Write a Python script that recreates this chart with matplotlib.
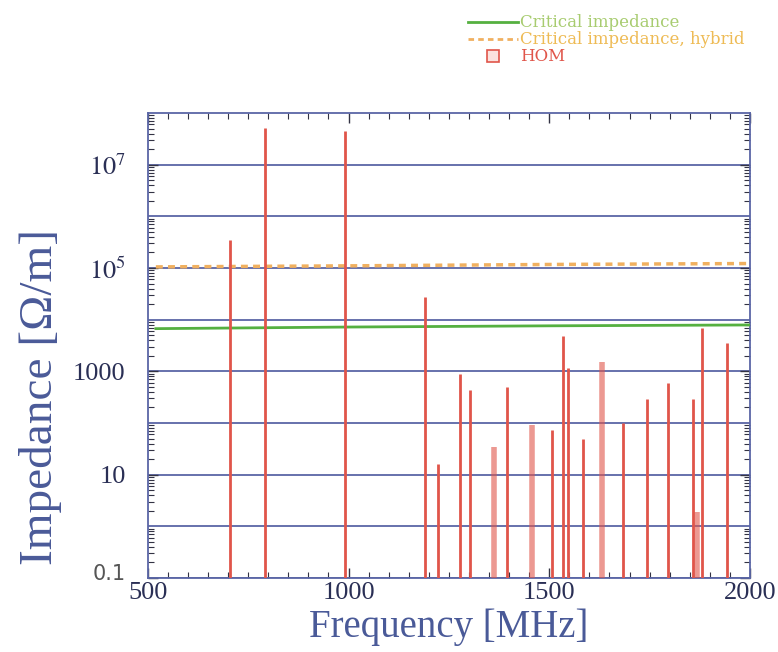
import matplotlib
matplotlib.use("Agg")
import matplotlib.pyplot as plt
from matplotlib.ticker import FixedLocator, FuncFormatter, MultipleLocator, LogLocator, NullFormatter
from matplotlib.lines import Line2D
import matplotlib.transforms as mtransforms

# HOM peaks: frequency [MHz], impedance [Ohm/m]
hom_freq = [704, 791, 991, 1190, 1222, 1277, 1302, 1362, 1394, 1456, 1506,
            1535, 1547, 1583, 1632, 1683, 1744, 1797, 1859, 1867, 1880, 1942]
hom_imp = [3.5e5, 5.2e7, 4.5e7, 2.8e4, 16, 900, 430, 34, 500, 90, 72,
           4800, 1180, 50, 1500, 98, 290, 590, 290, 1.9, 7000, 3500]
hom_width = [2, 2, 2, 2, 2, 2, 2, 4, 2, 4, 2, 2, 2, 2, 4, 2, 2, 2, 2, 4, 2, 2]

crit_freq = [520, 1000, 1500, 2000]
crit_imp = [6700, 7200, 7600, 7900]
hyb_freq = [520, 1000, 1500, 2000]
hyb_imp = [1.05e5, 1.1e5, 1.17e5, 1.22e5]

ytick_vals = [0.1, 10, 1000, 1e5, 1e7]
ytick_text = ["0.1", "10", "1000", r"$10^5$", r"$10^7$"]
xtick_vals = [500, 1000, 1500, 2000]

grid_col = "#5a66a6"
label_col = "#4a5a98"
red = "#e0554a"

plt.rcParams["font.family"] = ["Liberation Serif", "DejaVu Serif"]
plt.rcParams["mathtext.fontset"] = "stix"

fig = plt.figure(figsize=(7.78, 6.52), dpi=100)
ax = fig.add_axes([0.190, 0.1135, 0.774, 0.7132])

ax.set_yscale("log")
ax.set_xlim(500, 2000)
ax.set_ylim(0.1, 1e8)

# horizontal grid every decade
for e in range(-1, 8):
    ax.axhline(10.0 ** e, color=grid_col, lw=1.3, zorder=1)

ax.plot(crit_freq, crit_imp, color="#55b040", lw=2, zorder=3)
ax.plot(hyb_freq, hyb_imp, color="#f0b060", lw=2.5, ls=(0, (2, 1.5)), zorder=3)
for f, z, w in zip(hom_freq, hom_imp, hom_width):
    alpha = 0.6 if w > 2 else 1.0
    ax.vlines(f, 0.1, z, color=red, lw=w, alpha=alpha, zorder=4)

ax.yaxis.set_major_locator(FixedLocator(ytick_vals))
ax.yaxis.set_major_formatter(FuncFormatter(lambda v, p: ytick_text[ytick_vals.index(v)] if v in ytick_vals else ""))
ax.yaxis.set_minor_locator(LogLocator(base=10, subs=[2, 3, 4, 5, 6, 7, 8, 9], numticks=20))
ax.yaxis.set_minor_formatter(NullFormatter())
ax.xaxis.set_major_locator(FixedLocator(xtick_vals))
ax.xaxis.set_minor_locator(MultipleLocator(50))

ax.tick_params(axis="both", which="both", direction="in", top=True, right=True, colors="#333344")
ax.tick_params(axis="both", which="major", length=7, width=1.0, labelsize=19, labelcolor="#2a2f55")
ax.tick_params(axis="both", which="minor", length=4, width=0.8)
ax.tick_params(axis="x", pad=3)
ax.tick_params(axis="y", pad=16)

fig.canvas.draw()
for lbl in ax.get_yticklabels():
    if lbl.get_text() == "0.1":
        lbl.set_family("DejaVu Sans")
        lbl.set_color("#555555")
        lbl.set_fontsize(15)
        lbl.set_transform(lbl.get_transform() + mtransforms.ScaledTranslation(0, 4 / 72, fig.dpi_scale_trans))

for s in ax.spines.values():
    s.set_color(grid_col)
    s.set_linewidth(1.3)

ax.set_xlabel("Frequency [MHz]", fontsize=28, color=label_col, labelpad=3)
ax.set_ylabel("Impedance [Ω/m]", fontsize=34, color=label_col)
ax.yaxis.set_label_coords(-0.143, 0.39)

handles = [Line2D([], [], color="#55b040", lw=2),
           Line2D([], [], color="#f0b060", lw=2, ls=(0, (2, 1.5))),
           Line2D([], [], ls="none", marker="s", markersize=9,
                  markerfacecolor="#fbe2de", markeredgecolor=red, markeredgewidth=1.2)]
labels = ["Critical impedance", "Critical impedance, hybrid", "HOM"]
leg = fig.legend(handles, labels, loc="upper left", bbox_to_anchor=(0.602, 0.978),
                 frameon=False, borderpad=0, borderaxespad=0,
                 prop={"family": "DejaVu Serif", "size": 12},
                 handlelength=3.0, handletextpad=0.1, labelspacing=0.0)
for t, c in zip(leg.get_texts(), ["#a8cc70", "#eebb55", red]):
    t.set_color(c)

fig.savefig("out.png", dpi=100)
